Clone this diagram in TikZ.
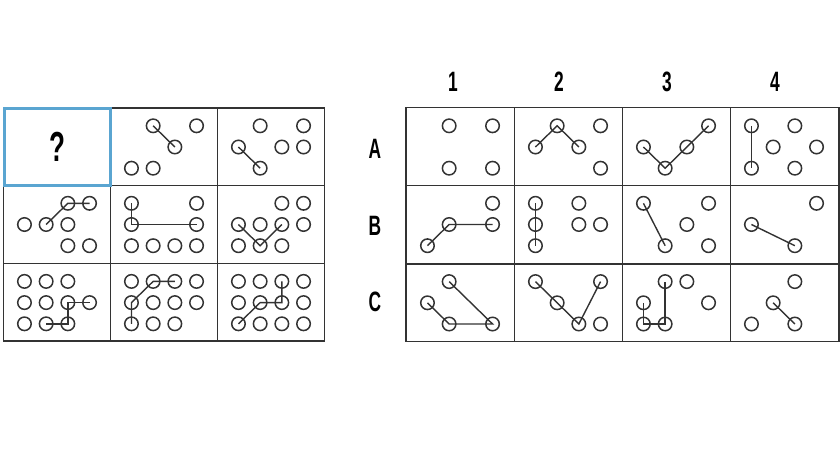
\documentclass[tikz,border=0pt]{standalone}
\usepackage{fontspec}
\newfontfamily\condf[FakeStretch=0.62]{Liberation Sans}
\definecolor{lineC}{HTML}{333333}
\definecolor{blueC}{HTML}{5AA5D1}
\tikzset{
  pt/.style={circle,draw=lineC,line width=1.5pt,minimum size=13.5pt,inner sep=0pt},
  ln/.style={draw=lineC,line width=1.4pt},
  gridln/.style={draw=lineC,line width=1.3pt},
  lbl/.style={font=\condf\bfseries\fontsize{28}{28}\selectfont,text=black,inner sep=0pt},
}
\newcommand\pcell[4]{%
  \foreach \c/\r in {#4} {
    \node[pt] (#1-\c-\r) at ({#2+(\c-1.5)*21.7},{#3+(\r-1)*21.2}) {};
  }%
}
\newcommand\pl[2]{%
  \draw[ln] \foreach[count=\i] \p in {#2} {\ifnum\i=1 (#1-\p.center)\else -- (#1-\p.center)\fi};%
}
\begin{document}
\begin{tikzpicture}[x=1pt,y=-1pt]
\useasboundingbox (0,0) rectangle (840,450);
% left grid
\draw[gridln] (3.5,108) rectangle (324.5,341);
\draw[gridln] (110.5,108) -- (110.5,341) (217.5,108) -- (217.5,341);
\draw[gridln] (3.5,185.7) -- (324.5,185.7) (3.5,263.3) -- (324.5,263.3);
% right grid
\draw[gridln] (406,107.5) rectangle (839,341.5);
\draw[gridln] (514.3,107.5) -- (514.3,341.5) (622.5,107.5) -- (622.5,341.5) (730.7,107.5) -- (730.7,341.5);
\draw[gridln] (406,185.8) -- (839,185.8) (406,264) -- (839,264);
% question cell
\draw[blueC,line width=3pt] (4,108.5) rectangle (110,185.5);
\node[font=\condf\fontsize{42}{42}\selectfont\bfseries,inner sep=0pt] (q) at (57,147) {?};
% left cells
\pcell{L12}{164}{147}{1/0,3/0,2/1,0/2,1/2}
\pl{L12}{1-0,2-1}
\pcell{L13}{271}{147}{1/0,3/0,0/1,2/1,3/1,1/2}
\pl{L13}{0-1,1-2}
\pcell{L21}{57}{224.5}{2/0,3/0,0/1,1/1,2/1,2/2,3/2}
\pl{L21}{1-1,2-0,3-0}
\pcell{L22}{164}{224.5}{0/0,3/0,0/1,3/1,0/2,1/2,2/2,3/2}
\pl{L22}{0-0,0-1,3-1}
\pcell{L23}{271}{224.5}{2/0,3/0,0/1,1/1,2/1,3/1,0/2,1/2,2/2}
\pl{L23}{0-1,1-2,2-1}
\pcell{L31}{57}{302.6}{0/0,1/0,2/0,0/1,1/1,2/1,3/1,0/2,1/2,2/2}
\pl{L31}{1-2,2-2,2-1,3-1}
\pcell{L32}{164}{302.6}{0/0,1/0,2/0,3/0,0/1,1/1,2/1,3/1,0/2,1/2,2/2}
\pl{L32}{0-2,0-1,1-0,2-0}
\pcell{L33}{271}{302.6}{0/0,1/0,2/0,3/0,0/1,1/1,2/1,3/1,0/2,1/2,2/2,3/2}
\pl{L33}{0-2,1-1,2-1,2-0}
% right cells
\pcell{A1}{460}{147}{1/0,3/0,1/2,3/2}
\pcell{A2}{568}{147}{1/0,3/0,0/1,2/1,3/2}
\pl{A2}{0-1,1-0,2-1}
\pcell{A3}{676}{147}{3/0,0/1,2/1,1/2}
\pl{A3}{0-1,1-2,2-1,3-0}
\pcell{A4}{784}{147}{0/0,2/0,1/1,3/1,0/2,2/2}
\pl{A4}{0-0,0-2}
\pcell{B1}{460}{224.5}{3/0,1/1,3/1,0/2}
\pl{B1}{0-2,1-1,3-1}
\pcell{B2}{568}{224.5}{0/0,2/0,0/1,2/1,3/1,0/2}
\pl{B2}{0-0,0-2}
\pcell{B3}{676}{224.5}{0/0,3/0,2/1,1/2,3/2}
\pl{B3}{0-0,1-2}
\pcell{B4}{784}{224.5}{3/0,0/1,2/2}
\pl{B4}{0-1,2-2}
\pcell{C1}{460}{302.8}{1/0,0/1,1/2,3/2}
\pl{C1}{0-1,1-2,3-2,1-0}
\pcell{C2}{568}{302.8}{0/0,3/0,1/1,2/2,3/2}
\pl{C2}{0-0,1-1,2-2,3-0}
\pcell{C3}{676}{302.8}{1/0,2/0,0/1,3/1,0/2,1/2}
\pl{C3}{0-1,0-2,1-2,1-0}
\pcell{C4}{784}{302.8}{2/0,1/1,0/2,2/2}
\pl{C4}{1-1,2-2}
% labels
\node[lbl] (n1) at (453,82) {1};
\node[lbl] (n2) at (559,82) {2};
\node[lbl] (n3) at (667,82) {3};
\node[lbl] (n4) at (775,82) {4};
\node[lbl] (rA) at (375,149) {A};
\node[lbl] (rB) at (375,226) {B};
\node[lbl] (rC) at (375,302) {C};
\end{tikzpicture}
\end{document}
